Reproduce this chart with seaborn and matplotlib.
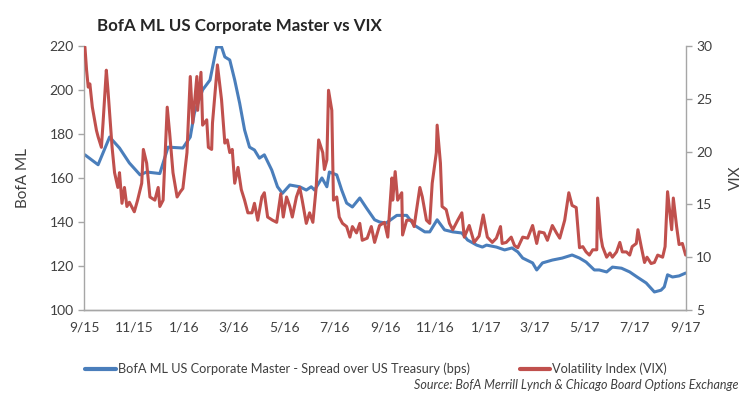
import pandas as pd
import matplotlib.pyplot as plt
import matplotlib.dates as mdates
import seaborn as sns

# --- data ---
spread_dates = [
    "2015-09-02", "2015-09-18", "2015-10-02", "2015-10-14", "2015-10-26", "2015-11-08",
    "2015-11-16", "2015-12-02", "2015-12-12", "2015-12-30", "2016-01-08", "2016-01-13",
    "2016-01-23", "2016-02-01", "2016-02-09", "2016-02-15", "2016-02-19", "2016-02-25",
    "2016-03-02", "2016-03-08", "2016-03-14", "2016-03-20", "2016-03-26", "2016-04-01",
    "2016-04-07", "2016-04-16", "2016-04-23", "2016-04-29", "2016-05-08", "2016-05-20",
    "2016-05-28", "2016-06-03", "2016-06-07", "2016-06-16", "2016-06-22", "2016-06-25",
    "2016-07-04", "2016-07-10", "2016-07-16", "2016-07-23", "2016-08-01", "2016-08-09",
    "2016-08-19", "2016-08-25", "2016-09-02", "2016-09-15", "2016-09-27", "2016-10-06",
    "2016-10-19", "2016-10-25", "2016-11-03", "2016-11-12", "2016-11-22", "2016-12-03",
    "2016-12-10", "2016-12-21", "2016-12-28", "2017-01-02", "2017-01-14", "2017-01-24",
    "2017-02-02", "2017-02-09", "2017-02-15", "2017-02-27", "2017-03-04", "2017-03-11",
    "2017-03-23", "2017-04-04", "2017-04-16", "2017-04-25", "2017-05-03", "2017-05-13",
    "2017-05-19", "2017-05-28", "2017-06-04", "2017-06-15", "2017-06-25", "2017-07-04",
    "2017-07-15", "2017-07-25", "2017-08-02", "2017-08-06", "2017-08-10", "2017-08-16",
    "2017-08-24", "2017-09-01",
]
spread_bps = [
    170.5, 166.0, 178.6, 173.6, 166.8, 161.4,
    162.7, 162.0, 174.0, 173.6, 178.6, 189.5,
    200.0, 204.5, 219.5, 219.5, 215.0, 213.6,
    204.5, 194.0, 181.8, 174.0, 172.7, 169.0,
    170.5, 163.6, 156.0, 153.0, 156.8, 156.0,
    154.5, 156.0, 154.5, 160.0, 156.0, 162.7,
    161.4, 154.5, 148.6, 146.8, 150.9, 146.4,
    141.0, 140.0, 139.5, 143.0, 143.0, 138.6,
    135.5, 135.5, 141.0, 136.4, 135.5, 135.0,
    131.8, 129.5, 128.6, 129.5, 128.6, 127.3,
    128.2, 126.4, 123.6, 121.4, 118.2, 121.4,
    122.7, 123.6, 125.0, 123.6, 121.8, 118.2,
    118.2, 117.3, 119.5, 119.0, 117.3, 115.0,
    112.3, 108.2, 109.0, 110.5, 116.0, 115.0,
    115.5, 116.8,
]

vix_dates = [
    "2015-09-02", "2015-09-04", "2015-09-06", "2015-09-08", "2015-09-11", "2015-09-16",
    "2015-09-18", "2015-09-22", "2015-09-24", "2015-09-28", "2015-09-30", "2015-10-05",
    "2015-10-08", "2015-10-12", "2015-10-14", "2015-10-17", "2015-10-20", "2015-10-23",
    "2015-10-26", "2015-11-01", "2015-11-05", "2015-11-10", "2015-11-12", "2015-11-16",
    "2015-11-20", "2015-11-26", "2015-11-30", "2015-12-02", "2015-12-06", "2015-12-11",
    "2015-12-14", "2015-12-18", "2015-12-23", "2015-12-27", "2015-12-30", "2016-01-02",
    "2016-01-04", "2016-01-08", "2016-01-11", "2016-01-16", "2016-01-17", "2016-01-21",
    "2016-01-23", "2016-01-28", "2016-01-30", "2016-02-03", "2016-02-04", "2016-02-10",
    "2016-02-15", "2016-02-19", "2016-02-22", "2016-02-25", "2016-02-28", "2016-03-02",
    "2016-03-06", "2016-03-10", "2016-03-14", "2016-03-18", "2016-03-23", "2016-03-26",
    "2016-03-30", "2016-04-04", "2016-04-07", "2016-04-11", "2016-04-17", "2016-04-22",
    "2016-04-27", "2016-04-30", "2016-05-04", "2016-05-08", "2016-05-11", "2016-05-16",
    "2016-05-20", "2016-05-23", "2016-05-28", "2016-06-01", "2016-06-05", "2016-06-09",
    "2016-06-12", "2016-06-17", "2016-06-19", "2016-06-22", "2016-06-24", "2016-06-28",
    "2016-06-30", "2016-07-04", "2016-07-07", "2016-07-11", "2016-07-16", "2016-07-20",
    "2016-07-23", "2016-07-28", "2016-08-01", "2016-08-04", "2016-08-10", "2016-08-15",
    "2016-08-19", "2016-08-25", "2016-08-31", "2016-09-04", "2016-09-09", "2016-09-10",
    "2016-09-13", "2016-09-16", "2016-09-21", "2016-09-22", "2016-09-27", "2016-10-03",
    "2016-10-06", "2016-10-13", "2016-10-16", "2016-10-21", "2016-10-25", "2016-10-28",
    "2016-11-02", "2016-11-03", "2016-11-07", "2016-11-09", "2016-11-14", "2016-11-18",
    "2016-11-22", "2016-11-28", "2016-12-03", "2016-12-06", "2016-12-12", "2016-12-18",
    "2016-12-24", "2016-12-29", "2017-01-03", "2017-01-09", "2017-01-14", "2017-01-19",
    "2017-01-21", "2017-01-26", "2017-02-01", "2017-02-05", "2017-02-09", "2017-02-15",
    "2017-02-21", "2017-02-27", "2017-03-04", "2017-03-07", "2017-03-13", "2017-03-17",
    "2017-03-23", "2017-03-28", "2017-04-01", "2017-04-07", "2017-04-12", "2017-04-16",
    "2017-04-21", "2017-04-25", "2017-04-29", "2017-05-03", "2017-05-07", "2017-05-11",
    "2017-05-16", "2017-05-17", "2017-05-21", "2017-05-23", "2017-05-28", "2017-06-01",
    "2017-06-04", "2017-06-09", "2017-06-13", "2017-06-16", "2017-06-21", "2017-06-25",
    "2017-06-28", "2017-07-03", "2017-07-05", "2017-07-09", "2017-07-13", "2017-07-16",
    "2017-07-21", "2017-07-25", "2017-07-29", "2017-08-04", "2017-08-07", "2017-08-10",
    "2017-08-15", "2017-08-17", "2017-08-21", "2017-08-24", "2017-08-28", "2017-09-01",
]
vix_values = [
    29.9, 27.7, 26.1, 26.4, 24.2, 22.0,
    21.4, 20.4, 22.7, 27.7, 25.8, 20.4,
    18.0, 16.6, 18.0, 15.1, 16.6, 14.8,
    15.2, 14.3, 15.4, 17.0, 20.2, 18.9,
    15.7, 15.4, 16.6, 14.8, 15.4, 24.2,
    21.7, 18.0, 15.7, 16.2, 16.5, 18.5,
    19.9, 27.1, 22.7, 27.1, 23.9, 27.5,
    22.5, 23.0, 20.4, 20.2, 22.7, 28.2,
    24.9, 20.8, 21.1, 19.9, 20.2, 17.0,
    18.5, 16.4, 15.4, 14.2, 14.2, 15.1,
    13.5, 15.7, 16.1, 13.8, 13.5, 13.3,
    16.0, 13.8, 15.7, 14.8, 13.8, 15.7,
    16.6, 15.4, 13.2, 14.2, 13.3, 16.6,
    21.1, 19.9, 18.3, 19.2, 25.8, 23.9,
    15.4, 15.7, 13.8, 13.2, 12.9, 11.9,
    12.9, 12.3, 13.2, 11.6, 11.8, 12.9,
    11.4, 13.0, 13.3, 11.9, 17.5, 15.4,
    18.1, 15.4, 16.1, 12.1, 13.5, 13.5,
    12.9, 16.6, 15.7, 13.5, 13.2, 17.0,
    19.9, 22.5, 18.9, 14.8, 14.5, 13.2,
    12.6, 13.5, 14.2, 11.9, 13.0, 11.4,
    12.0, 14.0, 11.9, 11.4, 11.8, 12.9,
    11.3, 11.4, 11.9, 11.1, 10.9, 11.9,
    11.8, 13.0, 11.3, 12.4, 12.3, 11.6,
    13.0, 12.3, 11.8, 13.5, 16.1, 14.9,
    14.7, 10.9, 11.0, 10.5, 10.2, 10.7,
    10.7, 15.6, 11.9, 11.0, 10.0, 10.4,
    10.0, 10.5, 11.4, 10.5, 10.5, 10.2,
    11.0, 11.3, 12.6, 11.0, 9.5, 10.0,
    9.4, 9.5, 10.2, 10.0, 11.0, 16.2,
    12.6, 15.6, 12.9, 11.2, 11.3, 10.2,
]

TITLE = "BofA ML US Corporate Master vs VIX"
SPREAD_LABEL = "BofA ML US Corporate Master - Spread over US Treasury (bps)"
VIX_LABEL = "Volatility Index (VIX)"
SOURCE = "Source: BofA Merrill Lynch & Chicago Board Options Exchange"

BLUE = "#4A7EBB"
RED = "#C0504D"
GREY = "#A6A6A6"

sns.set_style("white")
plt.rcParams["font.family"] = ["Lato", "DejaVu Sans"]

spread = pd.DataFrame({"date": pd.to_datetime(spread_dates), "value": spread_bps})
vix = pd.DataFrame({"date": pd.to_datetime(vix_dates), "value": vix_values})

fig = plt.figure(figsize=(7.51, 3.99), dpi=100)
ax = fig.add_axes([0.112, 0.223, 0.801, 0.662])
ax2 = ax.twinx()

# secondary (VIX) series sits on top, as in the original
sns.lineplot(data=spread, x="date", y="value", ax=ax, color=BLUE, linewidth=2.2)
sns.lineplot(data=vix, x="date", y="value", ax=ax2, color=RED, linewidth=2.2)

ax.set_xlim(pd.Timestamp("2015-09-01"), pd.Timestamp("2017-09-01"))
ax.set_ylim(100, 220)
ax2.set_ylim(5, 30)
ax.set_yticks(range(100, 221, 20))
ax2.set_yticks(range(5, 31, 5))

ax.xaxis.set_major_locator(mdates.MonthLocator(bymonth=[1, 3, 5, 7, 9, 11]))
ax.xaxis.set_major_formatter(
    plt.FuncFormatter(lambda v, p: f"{mdates.num2date(v).month}/{mdates.num2date(v).strftime('%y')}"))

for a in (ax, ax2):
    for s in a.spines.values():
        s.set_color(GREY)
        s.set_linewidth(1)
    a.spines["top"].set_visible(False)
    a.tick_params(colors=GREY, labelcolor="#404040", labelsize=10, length=4, width=1)
    a.set_xlabel("")
ax.spines["right"].set_visible(False)
ax2.spines["left"].set_visible(False)
ax.tick_params(axis="x", direction="out", pad=4)
ax.tick_params(axis="y", direction="out", left=True)
ax2.tick_params(axis="y", direction="out", right=True)

ax.set_ylabel("BofA ML", fontsize=11, color="#404040", labelpad=14)
ax2.set_ylabel("VIX", fontsize=11, color="#404040", labelpad=12)

fig.text(0.129, 0.935, TITLE, fontsize=12.2, fontweight="bold", color="#262626", va="center")

handles = [plt.Line2D([], [], color=BLUE, lw=3), plt.Line2D([], [], color=RED, lw=3)]
fig.legend(handles, [SPREAD_LABEL, VIX_LABEL], loc="center", bbox_to_anchor=(0.501, 0.075),
           ncol=2, frameon=False, handlelength=2.4, handletextpad=0.15,
           columnspacing=3.9, labelcolor="#404040", prop={"size": 9.2})
fig.text(0.983, 0.035, SOURCE, fontsize=9, style="italic", color="#404040", ha="right", va="center")

fig.savefig("out.png", dpi=100)
